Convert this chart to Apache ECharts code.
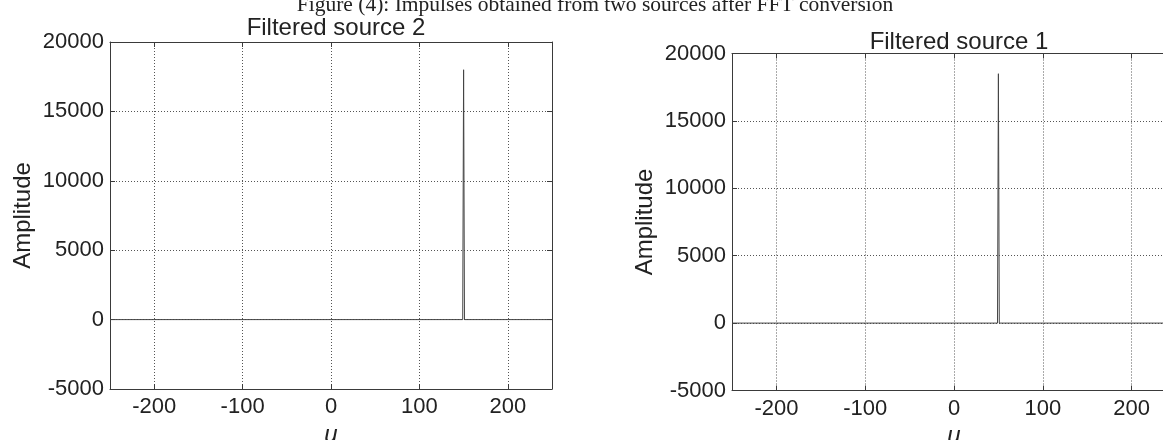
<!DOCTYPE html>
<html>
<head>
<meta charset="utf-8">
<script src="https://cdn.jsdelivr.net/npm/echarts@6/dist/echarts.min.js"></script>
<style>
html,body{margin:0;padding:0;background:#fff;}
#c{width:1163px;height:440px;}
</style>
</head>
<body>
<div id="c"></div>
<script>
// ---- data ----
const caption = 'Figure (4): Impulses obtained from two sources after FFT conversion';
const titles = ['Filtered source 2', 'Filtered source 1'];
const xTicks = [-200, -100, 0, 100, 200];
const yTicks = [-5000, 0, 5000, 10000, 15000, 20000];
// Filtered source 2 (left panel)
const u2 = [-250, 149, 150, 151, 250];
const amp2 = [0, 0, 18000, 0, 0];
// Filtered source 1 (right panel)
const u1 = [-250, 49, 50, 51, 250];
const amp1 = [0, 0, 18500, 0, 0];

const FONT = '"Liberation Sans", Arial, Helvetica, sans-serif';
const axisColor = '#3a3a3a';
const gridColor = '#555';

function pairs(xs, ys) { return xs.map((x, i) => [x, ys[i]]); }

function xAxes(gi) {
  return [
    {
      type: 'value', gridIndex: gi, position: 'bottom',
      min: -250, max: 250, interval: 50,
      name: 'u', nameLocation: 'middle', nameGap: 31,
      nameTextStyle: { fontFamily: FONT, fontSize: 24, fontStyle: 'italic', color: '#222' },
      axisLine: { show: true, onZero: false, lineStyle: { color: axisColor, width: 1 } },
      axisTick: { show: true, inside: true, length: 5, lineStyle: { color: axisColor }, customValues: xTicks },
      axisLabel: { fontFamily: FONT, fontSize: 22, color: '#222', margin: 7, customValues: xTicks,
        formatter: v => String(v) },
      splitLine: { show: true, lineStyle: { color: gridColor, type: [1, 2], width: 1 } }
    },
    {
      type: 'value', gridIndex: gi, position: 'top',
      min: -250, max: 250, interval: 50,
      axisLine: { show: true, onZero: false, lineStyle: { color: axisColor, width: 1 } },
      axisTick: { show: true, inside: true, length: 5, lineStyle: { color: axisColor }, customValues: xTicks },
      axisLabel: { show: false },
      splitLine: { show: false }
    }
  ];
}
function yAxes(gi) {
  return [
    {
      type: 'value', gridIndex: gi, position: 'left',
      min: -5000, max: 20000, interval: 5000,
      name: 'Amplitude', nameLocation: 'middle', nameGap: 75,
      nameTextStyle: { fontFamily: FONT, fontSize: 24, color: '#222' },
      axisLine: { show: true, onZero: false, lineStyle: { color: axisColor, width: 1 } },
      axisTick: { show: true, inside: true, length: 5, lineStyle: { color: axisColor }, customValues: yTicks },
      axisLabel: { fontFamily: FONT, fontSize: 22, color: '#222', margin: 6, customValues: yTicks,
        formatter: v => String(v) },
      splitLine: { show: true, lineStyle: { color: gridColor, type: [1, 2], width: 1 } }
    },
    {
      type: 'value', gridIndex: gi, position: 'right',
      min: -5000, max: 20000, interval: 5000,
      axisLine: { show: true, onZero: false, lineStyle: { color: axisColor, width: 1 } },
      axisTick: { show: true, inside: true, length: 5, lineStyle: { color: axisColor }, customValues: yTicks },
      axisLabel: { show: false },
      splitLine: { show: false }
    }
  ];
}

const chart = echarts.init(document.getElementById('c'), null, { renderer: 'canvas' });
chart.setOption({
  animation: false,
  backgroundColor: '#fff',
  title: [
    { text: caption, left: 590, textAlign: 'center', top: -11,
      textStyle: { fontFamily: '"Liberation Serif", "Times New Roman", serif', fontSize: 21.5, fontWeight: 'normal', color: '#222' } },
    { text: titles[0], left: 331, textAlign: 'center', top: 11,
      textStyle: { fontFamily: FONT, fontSize: 24, fontWeight: 'normal', color: '#222' } },
    { text: titles[1], left: 954, textAlign: 'center', top: 25,
      textStyle: { fontFamily: FONT, fontSize: 24, fontWeight: 'normal', color: '#222' } }
  ],
  grid: [
    { left: 110, top: 42, width: 442, height: 347, outerBoundsMode: 'none', containLabel: false },
    { left: 732, top: 53.5, width: 444, height: 337, outerBoundsMode: 'none', containLabel: false }
  ],
  xAxis: [...xAxes(0), ...xAxes(1)],
  yAxis: [...yAxes(0), ...yAxes(1)],
  series: [
    { type: 'line', xAxisIndex: 0, yAxisIndex: 0, data: pairs(u2, amp2), showSymbol: false,
      lineStyle: { color: '#444', width: 1 }, silent: true },
    { type: 'line', xAxisIndex: 2, yAxisIndex: 2, data: pairs(u1, amp1), showSymbol: false,
      lineStyle: { color: '#444', width: 1 }, silent: true }
  ]
});
</script>
</body>
</html>
